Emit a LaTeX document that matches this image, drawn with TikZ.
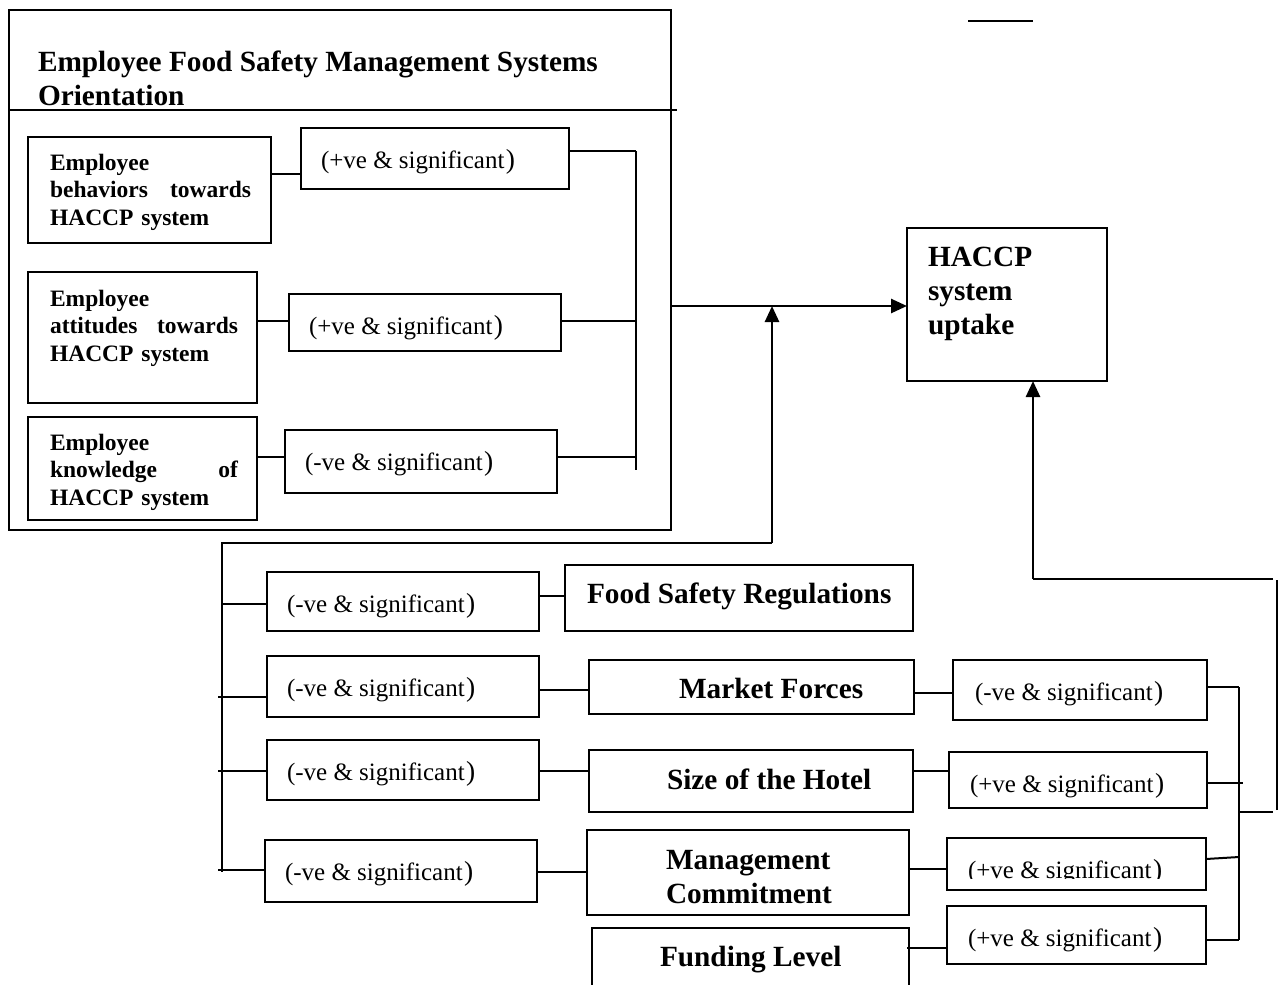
\documentclass[tikz,border=0pt]{standalone}
\usepackage{fontspec}
\setmainfont{Liberation Serif}
\usetikzlibrary{arrows.meta}

% box given by its top-left and bottom-right corners
\newcommand\rbox[5]{%
  \node[boxst, anchor=north west,
        minimum width={(#4-#2)*1pt}, minimum height={(#5-#3)*1pt}] (#1) at (#2,#3) {};}

\newcommand\bigbf{\fontsize{29.3}{34}\selectfont\bfseries}
\newcommand\smallbf{\fontsize{23.5}{27.5}\selectfont\bfseries}
\newcommand\lblfont{\fontsize{25}{28}\selectfont}
\newcommand\cp{\kern1.5pt{\fontsize{27.5}{28}\selectfont)}}

\begin{document}
\begin{tikzpicture}[x=1pt,y=-1pt,
  boxst/.style={draw, line width=2pt, inner sep=0pt, outer sep=0pt},
  ln/.style={line width=2pt},
  arr/.style={line width=2.6pt, -{Triangle[length=16pt,width=14pt]}},
  txt/.style={inner sep=0pt, outer sep=0pt, anchor=base west},
  ptxt/.style={txt, text width=#1pt, align=left, font=\smallbf},
  btxt/.style={txt, text width=#1pt, align=flush left, font=\bigbf}]

\useasboundingbox (0,0) rectangle (1283,985);
\clip (0,0) rectangle (1283,985);

% ---- employee orientation block ----
\rbox{orient}{9}{10}{671}{530}
\coordinate (divl) at (9,110);
\coordinate (divr) at (677,110);
\draw[ln] (divl) -- (divr);
\node[btxt=620] (ttl) at (38,71)
  {Employee Food Safety Management Systems\\Orientation};

\rbox{b1}{28}{137}{271}{243}
\rbox{b2}{28}{272}{257}{403}
\rbox{b3}{28}{417}{257}{520}
\node[ptxt=201] (b1t) at (50,170) {Employee\\behaviors\hfill towards\\HACCP system};
\node[ptxt=188] (b2t) at (50,306) {Employee\\attitudes\hfill towards\\HACCP system};
\node[ptxt=188] (b3t) at (50,450) {Employee\\knowledge\hfill of\\HACCP system};

\rbox{l1}{301}{128}{569}{189}
\rbox{l2}{289}{294}{561}{351}
\rbox{l3}{285}{430}{557}{493}
\node[txt, font=\lblfont] (l1t) at (321,168) {(+ve \& significant\cp};
\node[txt, font=\lblfont] (l2t) at (309,334) {(+ve \& significant\cp};
\node[txt, font=\lblfont] (l3t) at (305,470) {(-ve \& significant\cp};

\draw[ln] (b1.east |- 0,174) -- (l1.west |- 0,174);
\draw[ln] (b2.east |- 0,321) -- (l2.west |- 0,321);
\draw[ln] (b3.east |- 0,457) -- (l3.west |- 0,457);

\coordinate (bust) at (636,151);
\coordinate (busb) at (636,470);
\draw[ln] (bust) -- (busb);
\draw[ln] (l1.east |- bust) -- (bust);
\draw[ln] (l2.east |- 0,321) -- (bust |- 0,321);
\draw[ln] (l3.east |- 0,457) -- (bust |- 0,457);

% ---- outcome ----
\rbox{haccp}{907}{228}{1107}{381}
\node[btxt=170] (haccpt) at (928,266) {HACCP\\system\\uptake};

\draw[arr] (orient.east |- 0,306) -- (haccp.west |- 0,306);

\coordinate (fac) at (772,543);
\coordinate (facto) at (772,306);
\draw[arr] (fac) -- (facto);

\coordinate (lbust) at (222,543);
\coordinate (lbusb) at (222,872);
\draw[ln] (fac) -- (lbust) -- (lbusb);

% ---- organisational factors ----
\rbox{ll1}{267}{572}{539}{631}
\rbox{ll2}{267}{656}{539}{717}
\rbox{ll3}{267}{740}{539}{800}
\rbox{ll4}{265}{840}{537}{902}
\node[txt, font=\lblfont] (ll1t) at (287,612) {(-ve \& significant\cp};
\node[txt, font=\lblfont] (ll2t) at (287,696) {(-ve \& significant\cp};
\node[txt, font=\lblfont] (ll3t) at (287,780) {(-ve \& significant\cp};
\node[txt, font=\lblfont] (ll4t) at (285,880) {(-ve \& significant\cp};

\draw[ln] (lbust |- 0,604) -- (ll1.west |- 0,604);
\draw[ln] (218,697) -- (ll2.west |- 0,697);
\draw[ln] (218,771) -- (ll3.west |- 0,771);
\draw[ln] (218,870) -- (ll4.west |- 0,870);

\rbox{fsr}{565}{565}{913}{631}
\rbox{mf}{589}{660}{914}{714}
\rbox{sh}{589}{750}{913}{812}
\rbox{mc}{587}{830}{909}{915}
\rbox{fl}{592}{928}{909}{1010}
\node[txt, font=\bigbf] (fsrt) at (587,603) {Food Safety Regulations};
\node[txt, font=\bigbf] (mft) at (679,698) {Market Forces};
\node[txt, font=\bigbf] (sht) at (667,789) {Size of the Hotel};
\node[btxt=230] (mct) at (666,869) {Management\\Commitment};
\node[txt, font=\bigbf] (flt) at (660,966) {Funding Level};

\draw[ln] (ll1.east |- 0,596) -- (fsr.west |- 0,596);
\draw[ln] (ll2.east |- 0,690) -- (mf.west |- 0,690);
\draw[ln] (ll3.east |- 0,771) -- (sh.west |- 0,771);
\draw[ln] (ll4.east |- 0,872) -- (mc.west |- 0,872);

\rbox{rl1}{953}{660}{1207}{720}
\rbox{rl2}{949}{752}{1207}{808}
\rbox{rl3}{947}{838}{1206}{890}
\rbox{rl4}{947}{906}{1206}{964}
\node[txt, font=\lblfont] (rl1t) at (975,700) {(-ve \& significant\cp};
\node[txt, font=\lblfont] (rl2t) at (970,792) {(+ve \& significant\cp};
\begin{scope}
  \clip (947,838) rectangle (1206,878);
  \node[txt, font=\lblfont] (rl3t) at (968,878) {(+ve \& significant\cp};
\end{scope}
\node[txt, font=\lblfont] (rl4t) at (968,946) {(+ve \& significant\cp};

\draw[ln] (mf.east |- 0,693) -- (rl1.west |- 0,693);
\draw[ln] (sh.east |- 0,771) -- (rl2.west |- 0,771);
\draw[ln] (mc.east |- 0,869) -- (rl3.west |- 0,869);
\draw[ln] (907,948) -- (rl4.west |- 0,948);

\coordinate (rbust) at (1239,687);
\coordinate (rbusb) at (1239,940);
\draw[ln] (rbust) -- (rbusb);
\draw[ln] (rl1.east |- rbust) -- (rbust);
\draw[ln] (rl2.east |- 0,783) -- (1243,783);
\draw[ln] (rl3.east |- 0,859) -- (1239,857);
\draw[ln] (rl4.east |- rbusb) -- (rbusb);

% feedback path to the outcome
\coordinate (rout) at (1273,812);
\coordinate (rvb) at (1277,810);
\coordinate (rvt) at (1277,580);
\coordinate (rtop) at (1273,579);
\coordinate (rcorner) at (1033,579);
\draw[ln] (rbust |- rout) -- (rout);
\draw[ln] (rvb) -- (rvt);
\draw[ln] (rtop) -- (rcorner);
\draw[arr] (rcorner) -- (haccp.south -| rcorner);

% short rule at the top
\coordinate (sa) at (968,21);
\coordinate (sb) at (1033,21);
\draw[ln] (sa) -- (sb);
\end{tikzpicture}
\end{document}
